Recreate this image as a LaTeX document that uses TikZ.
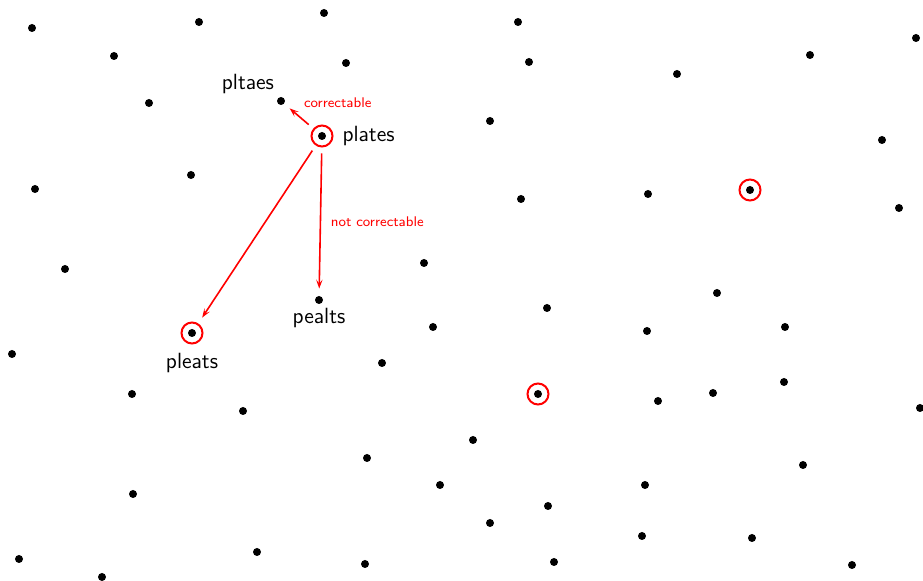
\documentclass[tikz,border=0pt]{standalone}
\usepackage{tikz}
\usetikzlibrary{positioning, arrows.meta}
\tikzstyle{dot}=[circle, fill=black, inner sep=0pt, minimum size=4pt]
\tikzstyle{ring}=[circle, draw=red, line width=1pt, inner sep=0pt, minimum size=10.5pt]
\tikzstyle{word}=[font=\sffamily\fontsize{11}{13}\selectfont, text=black]
\tikzstyle{note}=[font=\sffamily\fontsize{7}{8}\selectfont, text=red]
\tikzstyle{arrow}=[red, line width=0.8pt, -{Stealth[length=4.5pt, width=3.2pt, inset=2pt]}, shorten >=3.5pt, shorten <=3pt]

\begin{document}
\begin{tikzpicture}[x=0.5pt, y=-0.5pt]
    \useasboundingbox (0,0) rectangle (923,581);
    % the other words
    \foreach \x/\y [count=\i] in {32/28, 199/22, 324/13, 114/56, 346/63, 149/103, 191/175, 35/189, 65/269, 424/263,
        518/22, 916/38, 529/62, 810/55, 677/74, 490/121, 882/140, 521/199, 648/194, 899/208,
        12/354, 433/327, 382/363, 132/394, 243/411, 367/458, 440/485, 133/494, 257/552, 19/559, 102/577, 365/564,
        717/293, 547/308, 647/331, 785/327, 658/401, 713/393, 784/382, 920/408, 473/440, 803/465, 645/485,
        548/506, 490/523, 642/536, 752/538, 554/562, 852/565}
        \node[dot] (w\i) at (\x,\y) {};

    \node[dot] (plates) at (322,136) {};
    \node[dot] (pltaes) at (281,101) {};
    \node[dot] (pleats) at (192,333) {};
    \node[dot] (pealts) at (319,300) {};
    \node[dot] (codea) at (750,190) {};
    \node[dot] (codeb) at (538,394) {};

    % codewords
    \node[ring] (platesr) at (plates) {};
    \node[ring] (pleatsr) at (pleats) {};
    \node[ring] (codear) at (codea) {};
    \node[ring] (codebr) at (codeb) {};

    \node[word, right=1pt of platesr] (platesl) {plates};
    \node[word, anchor=south east] (pltaesl) at (pltaes.center) {pltaes};
    \node[word, below=1pt of pleatsr] (pleatsl) {pleats};
    \node[word, below=-1.5pt of pealts] (pealtsl) {pealts};

    \draw[arrow] (platesr) -- node[note, above right, pos=0.75, xshift=2.5pt, yshift=-2.5pt]{correctable} (pltaes);
    \draw[arrow] (platesr) -- node[note, right, midway, xshift=1.5pt]{not correctable} (pealts);
    \draw[arrow] (platesr) -- (pleatsr);
\end{tikzpicture}
\end{document}
